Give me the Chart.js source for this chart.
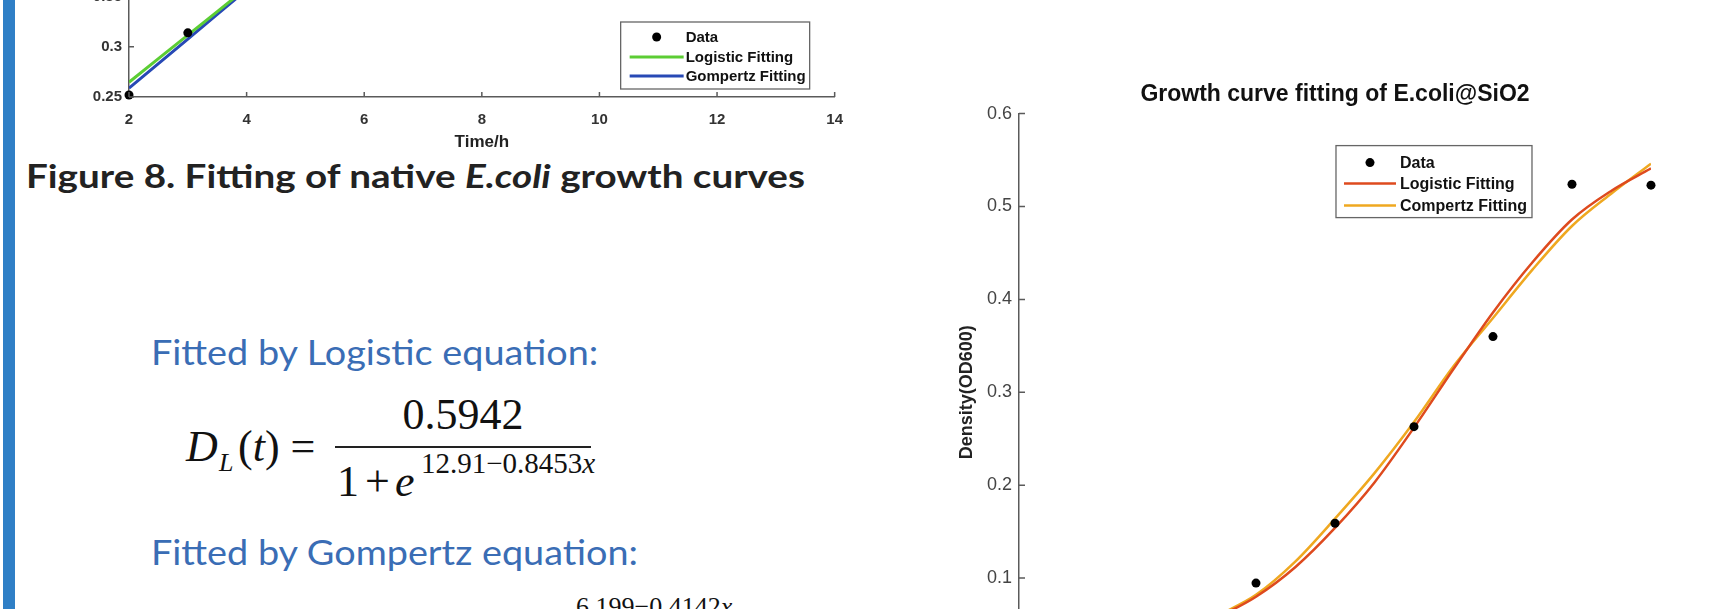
<!DOCTYPE html>
<html>
<head>
<meta charset="utf-8">
<script src="https://cdn.jsdelivr.net/npm/chart.js@4.4.1/dist/chart.umd.min.js"></script>
<style>
  html, body { margin: 0; padding: 0; background: #fff; }
  body { width: 1716px; height: 609px; overflow: hidden; position: relative; font-family: Lato, sans-serif; }
  .abs { position: absolute; white-space: nowrap; line-height: 0; transform-origin: 0 0; }
  #sidebar { position: absolute; left: 3px; top: 0; width: 12px; height: 609px; background: #2f7fc6; }
  #caption { left: 26px; top: 175px; font-size: 33px; font-weight: 700; color: #222; transform: scaleX(1.17); }
  .fitted { left: 151px; font-size: 35px; color: #3a6db5; transform: scaleX(1.08); }
  .eq { font-family: "Liberation Serif", "Times New Roman", serif; color: #111; }
  #fracbar { position: absolute; left: 335px; top: 446px; width: 256px; height: 2px; background: #222; }
  canvas { position: absolute; }
</style>
</head>
<body>
<div id="sidebar"></div>

<canvas id="leftChart" width="857" height="423" style="left:0px; top:-270px;"></canvas>

<div id="caption" class="abs">Figure 8. Fitting of native <i>E.coli</i> growth curves</div>

<div class="abs fitted" style="top:351px;">Fitted by Logistic equation:</div>
<div class="abs fitted" style="top:551px;">Fitted by Gompertz equation:</div>

<!-- D_L(t) = 0.5942 / (1 + e^(12.91-0.8453x)) -->
<div class="abs eq" style="left:186px; top:447px; font-size:44px;"><i>D</i></div>
<div class="abs eq" style="left:219px; top:463px; font-size:26px;"><i>L</i></div>
<div class="abs eq" style="left:238px; top:447px; font-size:44px;">(<i>t</i>) =</div>
<div class="abs eq" style="left:463px; top:415px; font-size:44px; transform:translateX(-50%);">0.5942</div>
<div id="fracbar"></div>
<div class="abs eq" style="left:337px; top:482px; font-size:44px;">1</div>
<div class="abs eq" style="left:365px; top:482px; font-size:44px;">+</div>
<div class="abs eq" style="left:395px; top:482px; font-size:44px;"><i>e</i></div>
<div class="abs eq" style="left:421px; top:463px; font-size:29px;">12.91&#8722;0.8453<i>x</i></div>
<div class="abs eq" style="left:576px; top:607px; font-size:26px;">6.199&#8722;0.4142<i>x</i></div>

<canvas id="rightChart" width="731" height="661" style="left:940px; top:60px;"></canvas>

<script>
// native E.coli (left, only the lower part is visible)
const leftTime = [2, 3];
const leftDensity = [0.252, 0.314];
const leftFitTime = [2, 3, 4];
const leftLogistic = [0.2647, 0.3117, 0.3587];
const leftGompertz = [0.2588, 0.3078, 0.3568];
const leftNames = ['Data', 'Logistic Fitting', 'Gompertz Fitting'];

// E.coli@SiO2 (right)
const rightTime = [5, 6, 7, 8, 9, 10];
const rightDensity = [0.0946, 0.159, 0.263, 0.360, 0.524, 0.523];
const rightFitTime = [4.5, 5, 5.5, 6, 6.5, 7, 7.5, 8, 8.5, 9, 9.5, 10];
const rightLogistic = [0.057, 0.080, 0.112, 0.154, 0.203, 0.262, 0.325, 0.386, 0.440, 0.486, 0.517, 0.541];
const rightGompertz = [0.059, 0.082, 0.118, 0.164, 0.213, 0.268, 0.328, 0.380, 0.432, 0.479, 0.514, 0.546];
const rightNames = ['Data', 'Logistic Fitting', 'Compertz Fitting'];

const sansFont = '"Liberation Sans", Arial, Helvetica, sans-serif';
Chart.defaults.font.family = sansFont;
const axisColor = '#5a5a5a';

function pairs(xs, ys) {
  return xs.map((x, i) => ({ x: x, y: ys[i] }));
}

// matlab style ticks pointing into the axes
const inwardTicks = {
  id: 'inwardTicks',
  afterDatasetsDraw(chart, args, opts) {
    const ctx = chart.ctx, area = chart.chartArea;
    const xs = chart.scales.x, ys = chart.scales.y;
    ctx.save();
    ctx.strokeStyle = axisColor;
    ctx.lineWidth = 1.5;
    ctx.beginPath();
    xs.ticks.forEach(t => {
      const px = xs.getPixelForValue(t.value);
      ctx.moveTo(px, area.bottom);
      ctx.lineTo(px, area.bottom - opts.length);
    });
    ys.ticks.forEach(t => {
      const py = ys.getPixelForValue(t.value);
      ctx.moveTo(area.left, py);
      ctx.lineTo(area.left + opts.length, py);
    });
    ctx.stroke();
    ctx.restore();
  }
};

// boxed legend sitting inside the plot
const boxLegend = {
  id: 'boxLegend',
  afterDraw(chart, args, opts) {
    const ctx = chart.ctx, a = chart.chartArea;
    const left = a.right + opts.dx;
    const top = (opts.anchor === 'bottom' ? a.bottom : a.top) + opts.dy;
    ctx.save();
    ctx.fillStyle = '#fff';
    ctx.fillRect(left, top, opts.width, opts.height);
    ctx.strokeStyle = '#666';
    ctx.lineWidth = 1.3;
    ctx.strokeRect(left, top, opts.width, opts.height);
    ctx.font = 'bold ' + opts.fontSize + 'px ' + sansFont;
    ctx.textBaseline = 'middle';
    chart.data.datasets.forEach((ds, i) => {
      const y = top + opts.rows[i];
      if (ds.showLine === false) {
        ctx.fillStyle = ds.backgroundColor;
        ctx.beginPath();
        ctx.arc(left + (opts.sample[0] + opts.sample[1]) / 2, y, ds.pointRadius, 0, Math.PI * 2);
        ctx.fill();
      } else {
        ctx.strokeStyle = ds.borderColor;
        ctx.lineWidth = ds.borderWidth;
        ctx.beginPath();
        ctx.moveTo(left + opts.sample[0], y);
        ctx.lineTo(left + opts.sample[1], y);
        ctx.stroke();
      }
      ctx.fillStyle = '#111';
      ctx.fillText(ds.label, left + opts.textX, y + 1);
    });
    ctx.restore();
  }
};

function dataSet(label, xs, ys) {
  return {
    label: label, data: pairs(xs, ys), showLine: false,
    pointRadius: 4.5, pointBorderWidth: 0, backgroundColor: '#000', borderColor: '#000', clip: false
  };
}
function fitSet(label, xs, ys, color, width) {
  return {
    label: label, data: pairs(xs, ys), borderColor: color, backgroundColor: color,
    borderWidth: width, pointRadius: 0, cubicInterpolationMode: 'monotone', fill: false
  };
}

new Chart(document.getElementById('leftChart'), {
  type: 'line',
  data: {
    datasets: [
      dataSet(leftNames[0], leftTime, leftDensity),
      fitSet(leftNames[1], leftFitTime, leftLogistic, '#5ccd34', 3),
      fitSet(leftNames[2], leftFitTime, leftGompertz, '#2749b5', 3)
    ]
  },
  options: {
    responsive: false,
    animation: false,
    events: [],
    layout: { padding: { top: 10, right: 20, bottom: 0, left: 0 } },
    plugins: {
      legend: { display: false },
      tooltip: { enabled: false },
      inwardTicks: { length: 5 },
      boxLegend: { anchor: 'bottom', dx: -214, dy: -75, width: 189, height: 67,
                   rows: [15, 35, 54], sample: [9, 63], textX: 65, fontSize: 15 }
    },
    scales: {
      x: {
        type: 'linear', min: 2, max: 14,
        ticks: { stepSize: 2, color: '#333', font: { size: 15, weight: 'bold' }, padding: 14 },
        grid: { display: false, drawTicks: false },
        border: { display: true, color: axisColor, width: 1.5 },
        title: { display: true, text: 'Time/h', color: '#222', font: { size: 17, weight: 'bold' }, padding: 0 },
        afterFit: s => { s.height = 56; }
      },
      y: {
        min: 0.25, max: 0.6,
        ticks: { stepSize: 0.05, color: '#333', font: { size: 15, weight: 'bold' }, padding: 7,
                 callback: v => String(+v.toFixed(2)) },
        grid: { display: false, drawTicks: false },
        border: { display: true, color: axisColor, width: 1.5 },
        title: { display: true, text: 'Density(OD600)', color: '#222', font: { size: 17, weight: 'bold' } },
        afterFit: s => { s.width = 129; }
      }
    }
  },
  plugins: [inwardTicks, boxLegend]
});

new Chart(document.getElementById('rightChart'), {
  type: 'line',
  data: {
    datasets: [
      dataSet(rightNames[0], rightTime, rightDensity),
      fitSet(rightNames[1], rightFitTime, rightLogistic, '#de4a1e', 2.5),
      fitSet(rightNames[2], rightFitTime, rightGompertz, '#efa820', 2.5)
    ]
  },
  options: {
    responsive: false,
    animation: false,
    events: [],
    layout: { padding: { top: 0, right: 20, bottom: 0, left: 0 } },
    plugins: {
      legend: { display: false },
      tooltip: { enabled: false },
      title: { display: true, fullSize: false, text: 'Growth curve fitting of E.coli@SiO2', color: '#111',
               font: { size: 23, weight: 'bold' }, padding: { top: 21, bottom: 5 } },
      inwardTicks: { length: 6 },
      boxLegend: { anchor: 'top', dx: -315, dy: 32, width: 196, height: 72,
                   rows: [17, 38, 60], sample: [8, 60], textX: 64, fontSize: 16 }
    },
    scales: {
      x: {
        type: 'linear', min: 2, max: 10,
        ticks: { stepSize: 1, color: '#444', font: { size: 18 }, padding: 10 },
        grid: { display: false, drawTicks: false },
        border: { display: true, color: axisColor, width: 1.5 },
        title: { display: true, text: 'Time/h', color: '#222', font: { size: 18, weight: 'bold' }, padding: 0 },
        afterFit: s => { s.height = 50; }
      },
      y: {
        min: 0, max: 0.6,
        ticks: { stepSize: 0.1, color: '#444', font: { size: 18 }, padding: 7,
                 callback: v => String(+v.toFixed(2)) },
        grid: { display: false, drawTicks: false },
        border: { display: true, color: axisColor, width: 1.5 },
        title: { display: true, text: 'Density(OD600)', color: '#222', font: { size: 18, weight: 'bold' },
                 padding: { top: 16, bottom: 0 } },
        afterFit: s => { s.width = 79; }
      }
    }
  },
  plugins: [inwardTicks, boxLegend]
});
</script>
</body>
</html>
